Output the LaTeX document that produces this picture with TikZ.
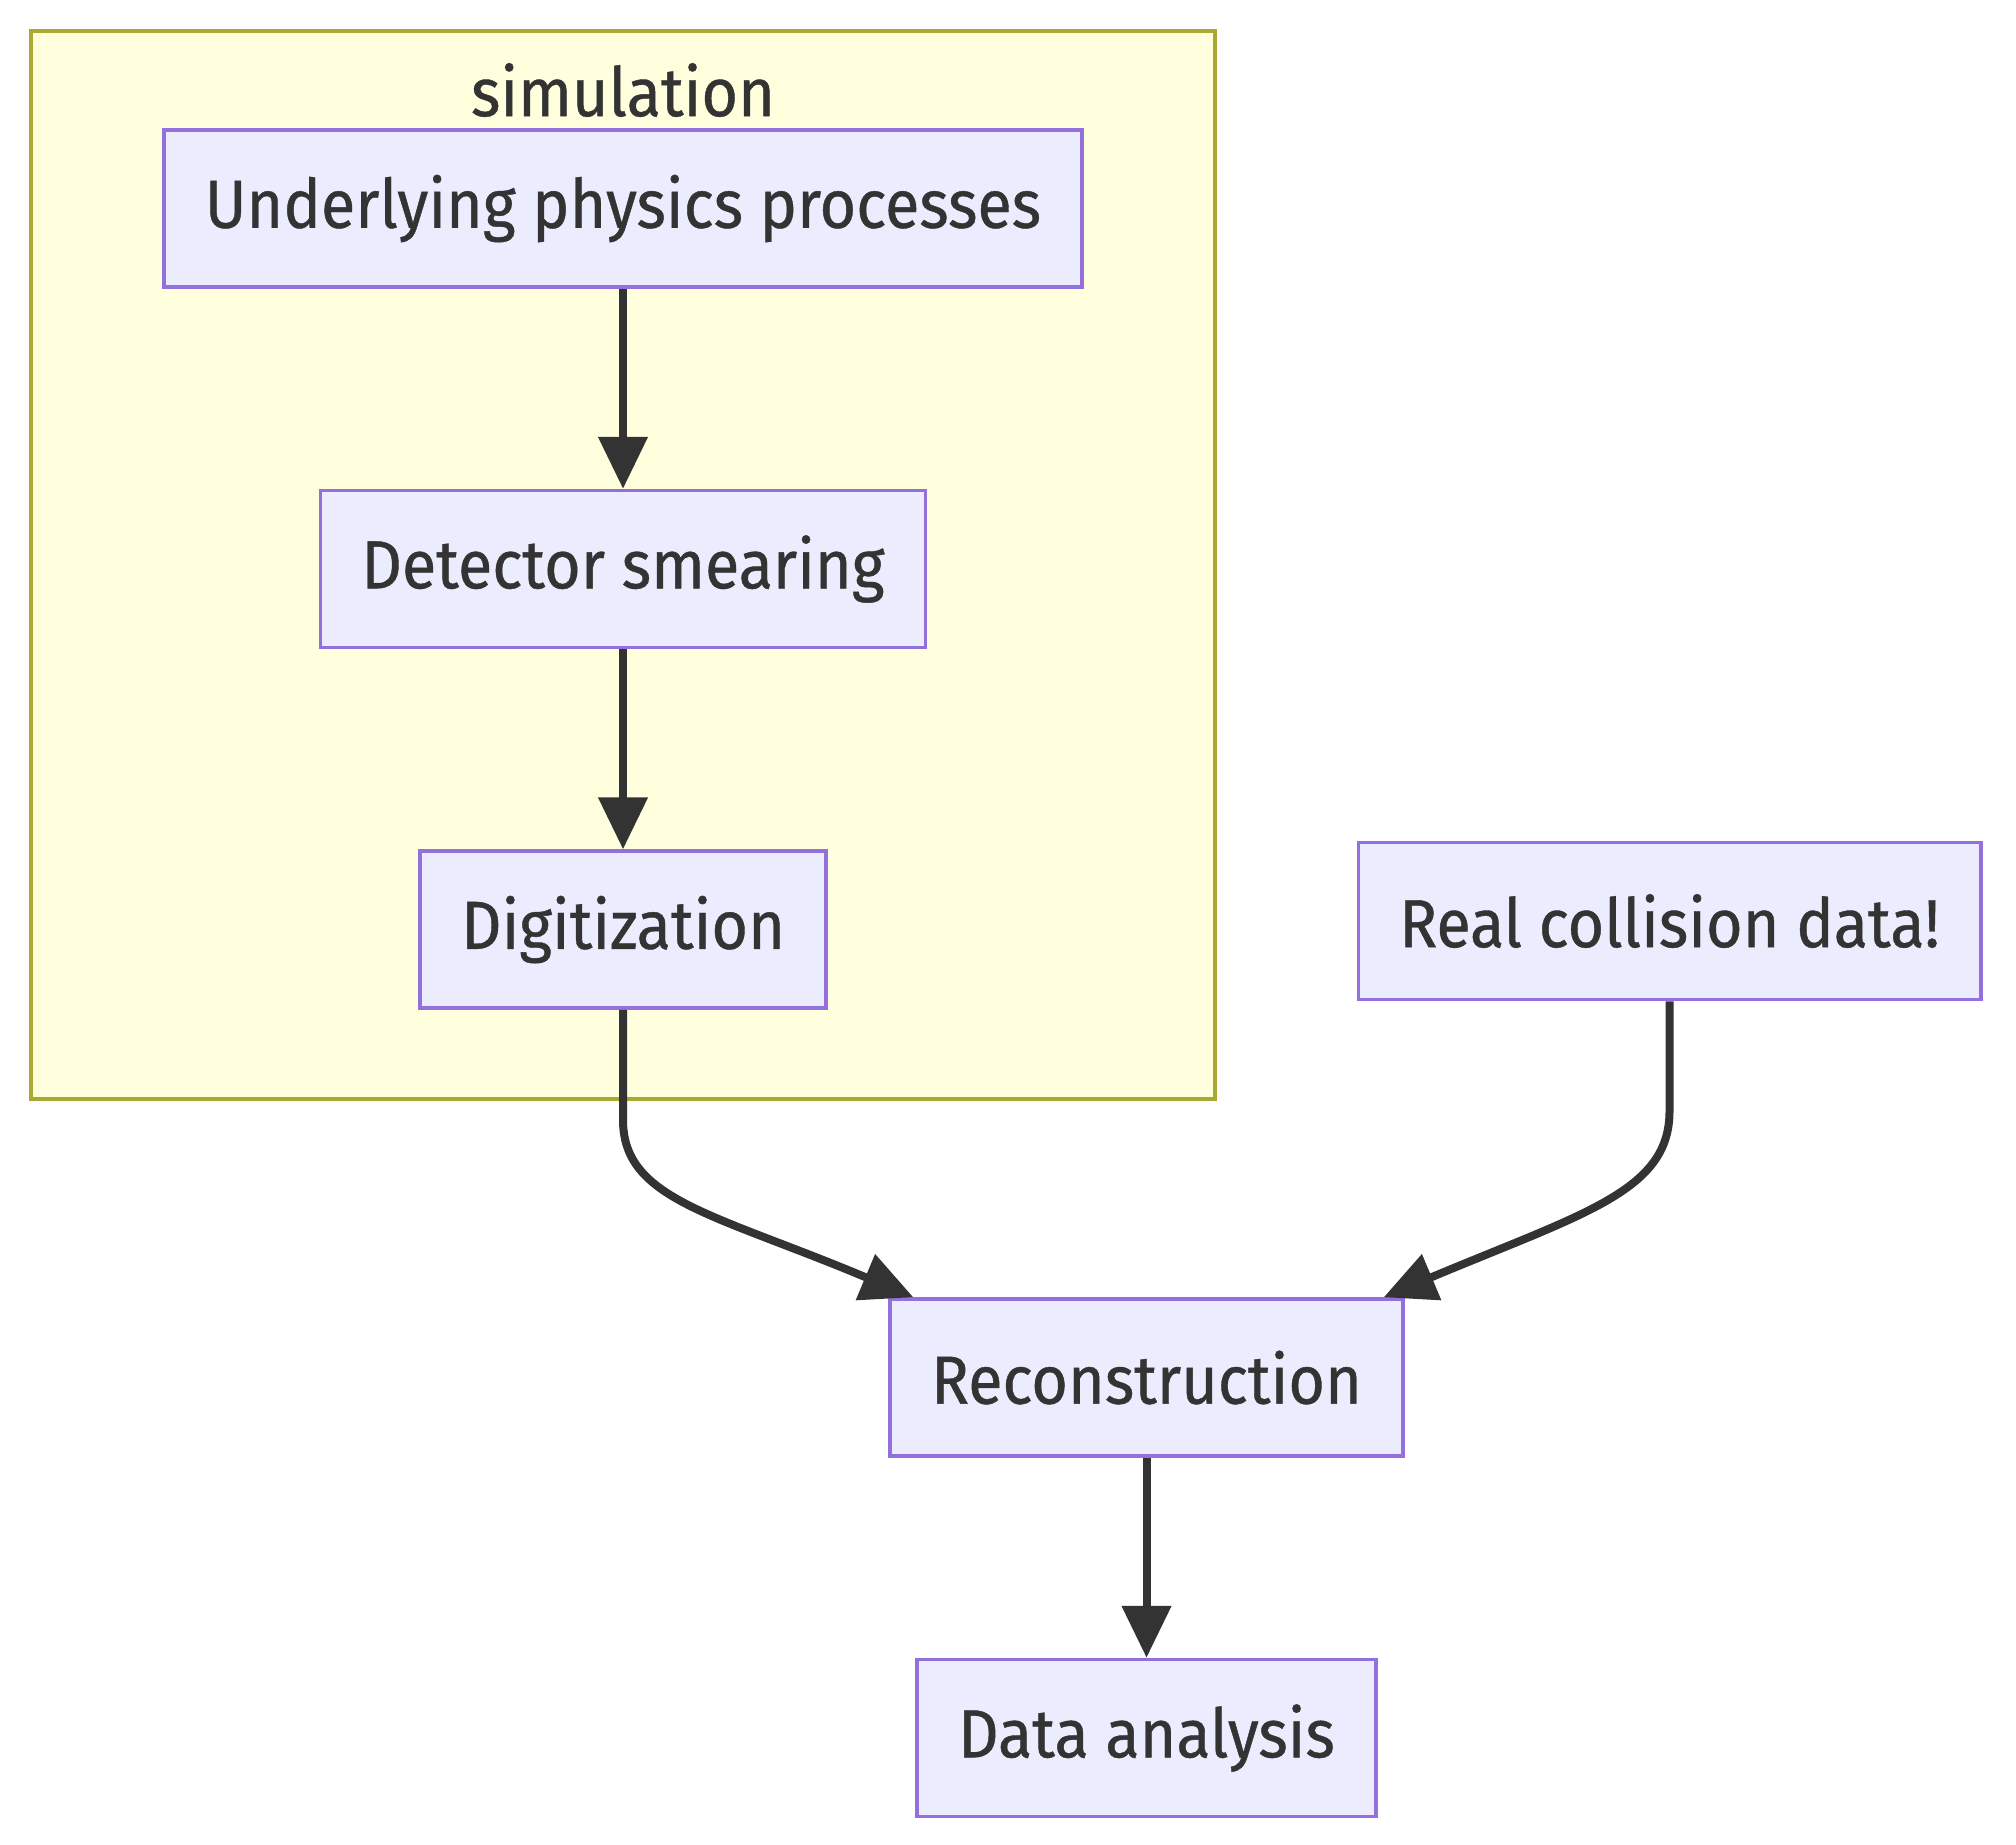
\documentclass[tikz,border=0pt]{standalone}
\usepackage{fontspec}
\setmainfont{Fira Sans}[FakeStretch=0.925, FakeBold=0.6]
\usetikzlibrary{arrows.meta, positioning}
\definecolor{boxfill}{HTML}{ECECFF}
\definecolor{boxline}{HTML}{9370DB}
\definecolor{simfill}{HTML}{FFFFDE}
\definecolor{simline}{HTML}{AAAA33}
\definecolor{ink}{HTML}{333333}
\tikzset{
  step box/.style={draw=boxline, fill=boxfill, line width=1.75pt, text=ink,
    minimum height=78.5pt, inner xsep=20.5pt, font=\fontsize{34}{40}\selectfont},
  flow/.style={draw=ink, line width=4pt, -{Triangle[length=26pt,width=24pt]}}
}
\begin{document}
\begin{tikzpicture}[x=0.5pt, y=-0.5pt]
  \useasboundingbox (0,0) rectangle (2016,1844);
  \draw[fill=simfill, draw=simline, line width=1.75pt] (31,31) rectangle (1215,1099);
  \node (simlabel) at (623,90) [text=ink, font=\fontsize{34}{40}\selectfont] {simulation};

  \node (up) [step box] at (623,208.5) {Underlying physics processes};
  \node (det) [step box, below=100pt of up] {Detector smearing};
  \node (dig) [step box, below=100pt of det] {Digitization};
  \node (real) [step box] at (1669.5,921) {Real collision data!};
  \node (rec) [step box] at (1146.5,1377.5) {Reconstruction};
  \node (ana) [step box, below=100pt of rec] {Data analysis};

  \coordinate (recl) at ([xshift=12.5pt]rec.north west);
  \coordinate (recr) at ([xshift=-10.5pt]rec.north east);

  \path[flow] (up) -- (det);
  \path[flow] (det) -- (dig);
  \path[flow] (dig.south) -- ++(0,110) .. controls +(0,80) and +(-200,-84) .. (recl);
  \path[flow] (real.south) -- ++(0,110) .. controls +(0,80) and +(200,-84) .. (recr);
  \path[flow] (rec) -- (ana);
\end{tikzpicture}
\end{document}
